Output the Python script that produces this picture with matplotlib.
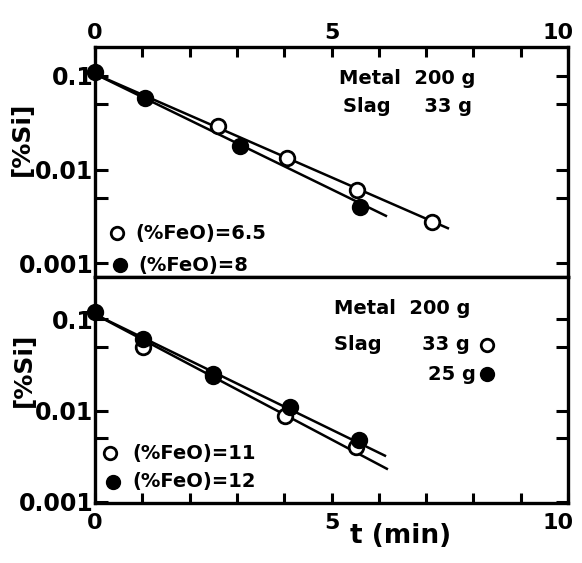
import numpy as np
import matplotlib
matplotlib.use('Agg')
import matplotlib.pyplot as plt
from matplotlib.ticker import FixedLocator, NullFormatter
from matplotlib.transforms import ScaledTranslation

# ---- data ----
# upper panel: slag 33 g
t_open_a = [2.6, 4.06, 5.54, 7.12]
si_open_a = [0.029, 0.0133, 0.0060, 0.00276]
t_fill_a = [0.0, 1.06, 3.07, 5.6]
si_fill_a = [0.11, 0.058, 0.018, 0.0040]
line_open_a = ([0.0, 7.46], [0.105, 0.00236])
line_fill_a = ([0.0, 6.15], [0.105, 0.0032])

# lower panel
t_open_b = [1.02, 2.5, 4.02, 5.52]
si_open_b = [0.050, 0.024, 0.0088, 0.0040]
t_fill_b = [0.0, 1.02, 2.5, 4.12, 5.58]
si_fill_b = [0.119, 0.061, 0.025, 0.0108, 0.0048]
line_open_b = ([0.0, 6.17], [0.113, 0.0023])
line_fill_b = ([0.0, 6.13], [0.113, 0.0032])

yticks = [0.1, 0.01, 0.001]
yticklabels = ['0.1', '0.01', '0.001']
yminor = [0.05, 0.005]
xticks = [0, 5, 10]
xticklabels = ['0', '5', '10']

plt.rcParams['font.family'] = ['DejaVu Sans']
plt.rcParams['font.weight'] = 'bold'

fig = plt.figure(figsize=(5.82, 5.63), dpi=100)
L, R = 95/582, 568/582
ax1 = fig.add_axes([L, 1-277/563, R-L, (277-47)/563])
ax2 = fig.add_axes([L, 1-503/563, R-L, (503-277)/563])

fs = 14
for ax, ylim in [(ax1, (0.00071, 0.204)), (ax2, (0.00097, 0.29))]:
    ax.set_yscale('log')
    ax.set_xlim(0, 10)
    ax.set_ylim(*ylim)
    for s in ax.spines.values():
        s.set_linewidth(2.4)
    ax.yaxis.set_major_locator(FixedLocator(yticks))
    ax.set_yticklabels(yticklabels)
    ax.yaxis.set_minor_locator(FixedLocator(yminor))
    ax.yaxis.set_minor_formatter(NullFormatter())
    ax.set_xticks(xticks)
    ax.set_xticklabels(xticklabels)
    ax.xaxis.set_minor_locator(FixedLocator(range(11)))
    ax.tick_params(axis='y', which='both', direction='in', left=True, right=True,
                   length=9, width=2.2, labelsize=17, pad=1)
    ax.tick_params(axis='x', which='both', direction='in', length=7, width=2.2,
                   labelsize=16, pad=3)
    ax.set_ylabel('[%Si]', fontsize=18, fontweight='bold')

ax1.yaxis.set_label_coords(-0.13, 0.60)
ax2.yaxis.set_label_coords(-0.125, 0.59)
ax1.tick_params(axis='x', which='both', top=True, bottom=False, labeltop=True, labelbottom=False)
ax2.tick_params(axis='x', which='both', top=False, bottom=True, pad=7)
ax2.set_xlabel('t (min)', fontsize=19, fontweight='bold')
ax2.xaxis.set_label_coords(0.645, -0.09)

# keep the "10" labels inside the canvas, as in the scan
shift = ScaledTranslation(-7/72, 0, fig.dpi_scale_trans)
for tick in (ax1.xaxis.get_major_ticks()[-1], ax2.xaxis.get_major_ticks()[-1]):
    for lab in (tick.label1, tick.label2):
        lab.set_transform(lab.get_transform() + shift)

mk = dict(ms=10.5, mew=2, ls='none', clip_on=False, zorder=3)
lw = 1.8

ax1.plot(*line_open_a, color='black', lw=lw)
ax1.plot(*line_fill_a, color='black', lw=lw)
ax1.plot(t_open_a, si_open_a, 'o', mfc='white', mec='black', **mk)
ax1.plot(t_fill_a, si_fill_a, 'o', mfc='black', mec='black', **mk)

ax2.plot(*line_open_b, color='black', lw=lw)
ax2.plot(*line_fill_b, color='black', lw=lw)
ax2.plot(t_open_b, si_open_b, 'o', mfc='white', mec='black', **mk)
ax2.plot(t_fill_b, si_fill_b, 'o', mfc='black', mec='black', **mk)

# annotations
tk = dict(fontsize=fs, fontweight='bold', va='center', transform=ax1.transAxes)
ax1.text(0.515, 0.865, 'Metal  200 g', **tk)
ax1.text(0.525, 0.74, 'Slag     33 g', **tk)
ax1.plot([0.046], [0.19], 'o', mfc='white', mec='black', ms=9, mew=2, transform=ax1.transAxes)
ax1.text(0.085, 0.19, '(%FeO)=6.5', **tk)
ax1.plot([0.053], [0.05], 'o', mfc='black', mec='black', ms=10, transform=ax1.transAxes)
ax1.text(0.091, 0.05, '(%FeO)=8', **tk)

tk2 = dict(tk, transform=ax2.transAxes)
ax2.text(0.505, 0.86, 'Metal  200 g', **tk2)
ax2.text(0.505, 0.70, 'Slag      33 g', **tk2)
ax2.plot([0.829], [0.70], 'o', mfc='white', mec='black', ms=9, mew=2, transform=ax2.transAxes)
ax2.text(0.705, 0.57, '25 g', **tk2)
ax2.plot([0.829], [0.57], 'o', mfc='black', mec='black', ms=10, transform=ax2.transAxes)
ax2.plot([0.032], [0.22], 'o', mfc='white', mec='black', ms=9, mew=2, transform=ax2.transAxes)
ax2.text(0.08, 0.22, '(%FeO)=11', **tk2)
ax2.plot([0.038], [0.095], 'o', mfc='black', mec='black', ms=10, transform=ax2.transAxes)
ax2.text(0.08, 0.095, '(%FeO)=12', **tk2)

fig.savefig('out.png', dpi=100)
